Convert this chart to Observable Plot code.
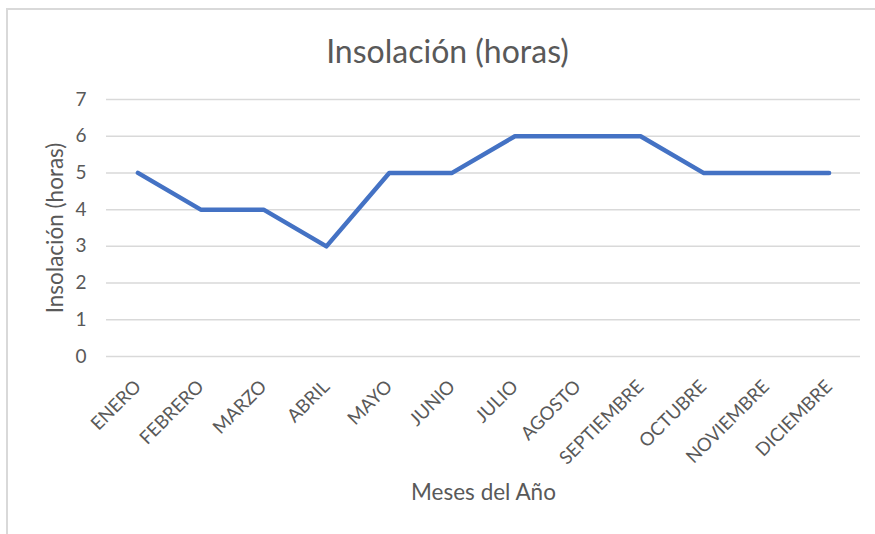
<!DOCTYPE html>
<html>
<head>
<meta charset="utf-8">
<script src="https://cdn.jsdelivr.net/npm/d3@7"></script>
<script src="https://cdn.jsdelivr.net/npm/@observablehq/plot@0.6"></script>
<style>
  html, body { margin: 0; padding: 0; background: #fff; }
  #wrap { position: relative; width: 875px; height: 534px; overflow: hidden; }
  #border { position: absolute; left: 6px; top: 8px; width: 900px; height: 600px;
            border-left: 2px solid #d9d9d9; border-top: 2px solid #d9d9d9; }
  #chart { position: absolute; left: 0; top: 0; }
</style>
</head>
<body>
<div id="wrap"><div id="border"></div><div id="chart"></div></div>
<script>
const months = ["ENERO","FEBRERO","MARZO","ABRIL","MAYO","JUNIO","JULIO","AGOSTO","SEPTIEMBRE","OCTUBRE","NOVIEMBRE","DICIEMBRE"];
const hours = [5, 4, 4, 3, 5, 5, 6, 6, 6, 5, 5, 5];
const yTicks = [0, 1, 2, 3, 4, 5, 6, 7];
const title = "Insolación (horas)";
const yLabel = "Insolación (horas)";
const xLabel = "Meses del Año";

const data = months.map((m, i) => ({month: m, value: hours[i]}));
const font = "Lato, 'Open Sans', sans-serif";
const gray = "#595959";

const chart = Plot.plot({
  width: 875,
  height: 534,
  marginLeft: 106,
  marginRight: 15,
  marginTop: 99,
  marginBottom: 178,
  style: {fontFamily: font, background: "transparent", color: gray},
  x: {type: "point", domain: months, padding: 0.5, round: false, label: null},
  y: {domain: [0, 7], ticks: yTicks, label: null},
  marks: [
    Plot.gridY(yTicks, {stroke: "#d9d9d9", strokeOpacity: 1, strokeWidth: 1.5}),
    Plot.axisY({ticks: yTicks, tickFormat: "d", tickSize: 0, tickPadding: 20, fontSize: 19, fill: gray, label: null}),
    Plot.axisX({tickSize: 0, tickPadding: 27, tickRotate: -45, fontSize: 18.5, fill: gray, label: null}),
    Plot.line(data, {x: "month", y: "value", stroke: "#4472c4", strokeWidth: 4.5, strokeLinejoin: "round", strokeLinecap: "round"}),
    Plot.text([title], {frameAnchor: "top", dx: -36, dy: -47, textAnchor: "middle", lineAnchor: "middle", fontSize: 32, fill: gray, text: d => d}),
    Plot.text([yLabel], {frameAnchor: "left", dx: -51, rotate: -90, textAnchor: "middle", lineAnchor: "middle", fontSize: 22.5, fill: gray, text: d => d}),
    Plot.text([xLabel], {frameAnchor: "bottom", dy: 136, textAnchor: "middle", lineAnchor: "middle", fontSize: 22.5, fill: gray, text: d => d})
  ]
});
document.getElementById("chart").appendChild(chart);
</script>
</body>
</html>
